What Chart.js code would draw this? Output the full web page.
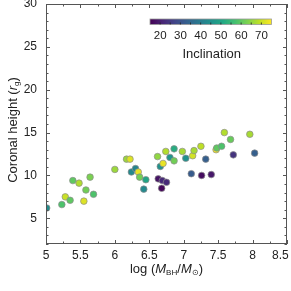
<!DOCTYPE html>
<html>
<head>
<meta charset="utf-8">
<script src="https://cdn.jsdelivr.net/npm/chart.js@4.4.1/dist/chart.umd.min.js"></script>
<style>
    html, body { margin: 0; padding: 0; background: #fff; }
    #wrap { width: 291px; height: 291px; }
</style>
</head>
<body>
<div id="wrap"><canvas id="coronaChart"></canvas></div>
<script>
/* ===========================
   DATA
=========================== */

// log(M_BH / M_sun) of each source
const logMass = [5.01, 5.23, 5.28, 5.35, 5.39, 5.48, 5.55, 5.58, 5.64, 5.69,
    6.00, 6.17, 6.22, 6.24, 6.30, 6.34, 6.36, 6.42, 6.45, 6.62,
    6.63, 6.66, 6.68, 6.69, 6.70, 6.74, 6.75, 6.80, 6.86, 6.86,
    6.98, 7.03, 7.11, 7.13, 7.15, 7.25, 7.26, 7.32, 7.40, 7.47,
    7.48, 7.55, 7.59, 7.68, 7.72, 7.96, 8.03];

// coronal height in r_g
const coronalHeight = [6.2, 6.6, 7.5, 7.1, 9.4, 9.1, 7.0, 8.3, 9.8, 7.8,
    10.7, 11.9, 11.9, 10.4, 10.8, 10.4, 9.8, 8.4, 9.5, 12.2,
    9.6, 11.05, 8.5, 9.4, 11.4, 12.8, 9.2, 12.1, 13.1, 11.7,
    12.8, 12.0, 10.2, 12.3, 12.9, 13.4, 10.0, 11.9, 10.1, 13.0,
    13.2, 13.4, 15.0, 14.2, 12.4, 14.8, 12.6];

// inclination (deg), used for the colour
const inclination = [44, 58, 70, 60, 60, 68, 72, 62, 63, 58,
    66, 66, 72, 43, 42, 73, 62, 43, 50, 65,
    18, 45, 16, 22, 73, 68, 22, 46, 52, 62,
    67, 45, 32, 71, 67, 69, 17, 33, 19, 74,
    60, 58, 68, 61, 24, 67, 33];

const xTicks = [5, 5.5, 6, 6.5, 7, 7.5, 8, 8.5];
const yTicks = [5, 10, 15, 20, 25, 30];
const colorbarTicks = [20, 30, 40, 50, 60, 70];
const inclinationRange = [15, 75];

/* ===========================
   VIRIDIS COLOUR MAP
=========================== */

const viridis = ['#440154', '#482475', '#414487', '#355f8d', '#2a788e',
    '#21918c', '#22a884', '#44bf70', '#7ad151', '#bddf26', '#fde725'];

function hexToRgb(h) {
    return [parseInt(h.slice(1, 3), 16), parseInt(h.slice(3, 5), 16), parseInt(h.slice(5, 7), 16)];
}

function viridisColor(v) {
    let t = (v - inclinationRange[0]) / (inclinationRange[1] - inclinationRange[0]);
    t = Math.max(0, Math.min(1, t));
    const pos = t * (viridis.length - 1);
    const i = Math.min(Math.floor(pos), viridis.length - 2);
    const f = pos - i;
    const a = hexToRgb(viridis[i]), b = hexToRgb(viridis[i + 1]);
    const c = a.map((x, k) => Math.round(x + (b[k] - x) * f));
    return 'rgb(' + c.join(',') + ')';
}

const points = logMass.map((x, i) => ({ x: x, y: coronalHeight[i] }));
const pointColors = inclination.map(viridisColor);

/* ===========================
   PLUGINS
=========================== */

const FONT = '"Liberation Sans", Arial, Helvetica, sans-serif';
const frameColor = '#555';

// frame + inward ticks on all four sides
const framePlugin = {
    id: 'frame',
    afterDraw(chart) {
        const { ctx, chartArea: a, scales } = chart;
        const xs = scales.x, ys = scales.y;
        ctx.save();
        ctx.strokeStyle = frameColor;
        ctx.lineWidth = 1;
        ctx.strokeRect(a.left + 0.5, a.top + 0.5, a.right - a.left - 1, a.bottom - a.top - 1);
        ctx.beginPath();
        for (let v = 5; v <= 8.5001; v += 0.25) {
            const px = Math.round(xs.getPixelForValue(v)) + 0.5;
            const len = (Math.abs(v * 2 - Math.round(v * 2)) < 1e-6) ? 4 : 2.5;
            ctx.moveTo(px, a.bottom); ctx.lineTo(px, a.bottom - len);
            ctx.moveTo(px, a.top); ctx.lineTo(px, a.top + len);
        }
        for (let v = 2; v <= 30; v += 1) {
            const py = Math.round(ys.getPixelForValue(v)) + 0.5;
            const len = (v % 5 === 0) ? 4 : 2.5;
            ctx.moveTo(a.left, py); ctx.lineTo(a.left + len, py);
            ctx.moveTo(a.right, py); ctx.lineTo(a.right - len, py);
        }
        ctx.stroke();
        ctx.restore();
    }
};

// draw a run of text pieces (normal / italic / subscript) centred on 0,0
function drawRich(ctx, parts, size) {
    const fontOf = p => (p.italic ? 'italic ' : '') + (p.sub ? size * 0.62 : size) + 'px ' + FONT;
    let total = 0;
    parts.forEach(p => { ctx.font = fontOf(p); total += ctx.measureText(p.t).width; });
    let x = -total / 2;
    ctx.textBaseline = 'middle';
    ctx.textAlign = 'left';
    parts.forEach(p => {
        ctx.font = fontOf(p);
        ctx.fillText(p.t, x, p.sub ? size * 0.28 : 0);
        x += ctx.measureText(p.t).width;
    });
}

const titlesPlugin = {
    id: 'titles',
    afterDraw(chart) {
        const { ctx, chartArea: a } = chart;
        ctx.save();
        ctx.fillStyle = '#222';
        ctx.translate((a.left + a.right) / 2, 269);
        drawRich(ctx, [
            { t: 'log (' }, { t: 'M', italic: true }, { t: 'BH', sub: true },
            { t: '/' }, { t: 'M', italic: true }, { t: '\u2299', sub: true }, { t: ')' }
        ], 13);
        ctx.restore();

        ctx.save();
        ctx.fillStyle = '#222';
        ctx.translate(13, 130);
        ctx.rotate(-Math.PI / 2);
        drawRich(ctx, [
            { t: 'Coronal height (' }, { t: 'r', italic: true }, { t: 'g', sub: true }, { t: ')' }
        ], 13);
        ctx.restore();
    }
};

// colour bar in the top right corner
const colorbarPlugin = {
    id: 'colorbar',
    afterDraw(chart) {
        const { ctx, chartArea: a } = chart;
        const x0 = a.right - 137, x1 = a.right - 15.5;
        const y0 = a.top + 15, h = 5.5;
        const toX = v => x0 + (v - inclinationRange[0]) / (inclinationRange[1] - inclinationRange[0]) * (x1 - x0);
        ctx.save();
        const g = ctx.createLinearGradient(x0, 0, x1, 0);
        viridis.forEach((c, i) => g.addColorStop(i / (viridis.length - 1), c));
        ctx.fillStyle = g;
        ctx.fillRect(x0, y0, x1 - x0, h);
        ctx.strokeStyle = '#999';
        ctx.lineWidth = 0.8;
        ctx.strokeRect(x0, y0, x1 - x0, h);
        ctx.strokeStyle = '#222';
        ctx.lineWidth = 0.8;
        ctx.beginPath();
        for (let v = 20; v <= 70; v += 5) {
            const px = toX(v);
            ctx.moveTo(px, y0 + h); ctx.lineTo(px, y0 + h - 2);
        }
        ctx.stroke();
        ctx.fillStyle = '#222';
        ctx.textAlign = 'center';
        ctx.textBaseline = 'middle';
        ctx.font = '11.5px ' + FONT;
        colorbarTicks.forEach(v => ctx.fillText(String(v), toX(v), y0 + 16.5));
        ctx.font = '13px ' + FONT;
        ctx.fillText('Inclination', (x0 + x1) / 2 + 1, y0 + 35);
        ctx.restore();
    }
};

/* ===========================
   CHART.JS CONFIGURATION
=========================== */

const ctx = document.getElementById('coronaChart');

new Chart(ctx, {
    type: 'scatter',
    data: {
        datasets: [{
            label: 'Sources',
            data: points,
            pointBackgroundColor: pointColors,
            pointBorderColor: '#8c8c8c',
            pointBorderWidth: 0.7,
            pointRadius: 3.3,
            pointHoverRadius: 3.3
        }]
    },
    options: {
        responsive: true,
        maintainAspectRatio: false,
        animation: false,
        layout: { padding: 0 },
        scales: {
            x: {
                type: 'linear',
                min: 5,
                max: 8.5,
                afterFit: s => {
                    s.height = 47;
                    s.paddingLeft = 0; s.paddingRight = 3;
                },
                afterBuildTicks: s => { s.ticks = xTicks.map(v => ({ value: v })); },
                grid: { display: false, drawTicks: false },
                border: { display: false },
                ticks: {
                    padding: 4,
                    maxRotation: 0,
                    minRotation: 0,
                    autoSkip: false,
                    color: '#222',
                    font: { family: FONT, size: 12 },
                    // last label is pulled in so it stays inside the canvas
                    callback: v => v === 8.5 ? String(v) + '    ' : String(v)
                }
            },
            y: {
                type: 'linear',
                min: 2,
                max: 30,
                afterFit: s => {
                    s.width = 46;
                    s.paddingTop = 2.5; s.paddingBottom = 0;
                },
                afterBuildTicks: s => { s.ticks = yTicks.map(v => ({ value: v })); },
                grid: { display: false, drawTicks: false },
                border: { display: false },
                ticks: {
                    padding: 9,
                    color: '#222',
                    font: { family: FONT, size: 12 },
                    callback: v => String(v)
                }
            }
        },
        plugins: {
            legend: { display: false },
            tooltip: { enabled: false },
            title: { display: false }
        }
    },
    plugins: [framePlugin, titlesPlugin, colorbarPlugin]
});
</script>
</body>
</html>
